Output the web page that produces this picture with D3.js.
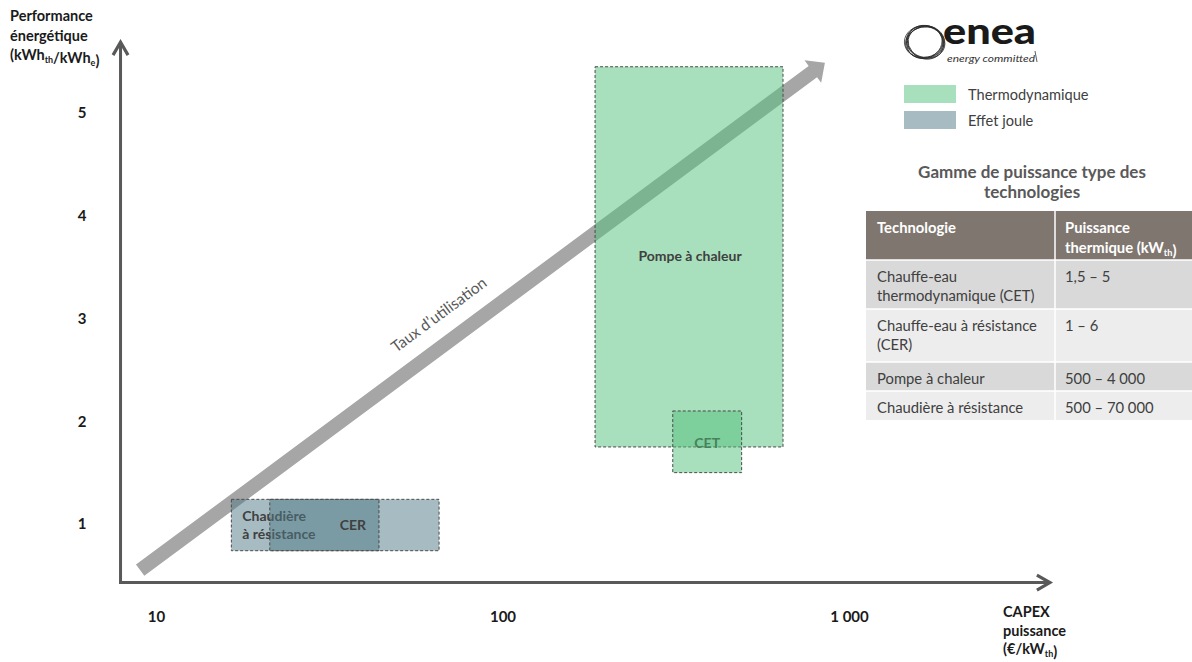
<!DOCTYPE html>
<html lang="fr">
<head>
<meta charset="utf-8">
<script src="https://cdn.jsdelivr.net/npm/d3@7"></script>
<style>
  html, body { margin: 0; padding: 0; background: #ffffff; }
  svg { display: block; font-family: Lato, "Noto Sans", sans-serif; }
</style>
</head>
<body>
<svg id="chart" width="1192" height="662"></svg>
<script>
// Technologies: CAPEX range (€/kWth) and energy performance range (kWhth/kWhe)
const categories = ["Chaudière à résistance", "CER", "Pompe à chaleur", "CET"];
const families   = ["Effet joule", "Effet joule", "Thermodynamique", "Thermodynamique"];
const capexLow   = [16.5, 21.3, 185, 310];
const capexHigh  = [65.6, 44, 645, 490];
const perfLow    = [0.74, 0.74, 1.75, 1.5];
const perfHigh   = [1.24, 1.24, 5.45, 2.1];

// Axis ticks
const xTicks = [10, 100, 1000];
const xTickLabels = ["10", "100", "1 000"];
const yTicks = [1, 2, 3, 4, 5];
const yTickLabels = ["1", "2", "3", "4", "5"];

// Axis extents (where the axis arrows start and end)
const xAxisExtent = [7.9, 3800];
const yAxisExtent = [0.43, 5.69];

// "Taux d'utilisation" trend arrow, from / to (CAPEX, performance)
const trendStart = [9, 0.55];
const trendEnd = [852, 5.49];

// Legend
const legendLabels = ["Thermodynamique", "Effet joule"];

// Power range table
const tableTitle = ["Gamme de puissance type des", "technologies"];
const techNames = [
  ["Chauffe-eau", "thermodynamique (CET)"],
  ["Chauffe-eau à résistance", "(CER)"],
  ["Pompe à chaleur"],
  ["Chaudière à résistance"]
];
const powerRanges = ["1,5 – 5", "1 – 6", "500 – 4 000", "500 – 70 000"];

const familyColor = { "Thermodynamique": "#51bf79", "Effet joule": "#4f7985" };

const svg = d3.select("#chart");

const x = d3.scaleLog().domain([10, 1000]).range([156, 849]);
const y = d3.scaleLinear().domain([1, 5]).range([524, 113]);

const axisColor = "#595959";
const textDark = "#404040";

// rich text helper with subscripts
function rich(sel, parts, baseSize) {
  parts.forEach(p => {
    if (p.sub) {
      sel.append("tspan").attr("dy", 3).attr("font-size", baseSize * 0.62).text(p.t);
      sel.append("tspan").attr("dy", -3).text("");
    } else {
      sel.append("tspan").text(p.t);
    }
  });
}

// ---- Trend arrow (drawn first, boxes overlay it) ----
(function drawTrend() {
  const p0 = [x(trendStart[0]), y(trendStart[1])];
  const p1 = [x(trendEnd[0]), y(trendEnd[1])];
  const dx = p1[0] - p0[0], dy = p1[1] - p0[1];
  const len = Math.hypot(dx, dy);
  const u = [dx / len, dy / len];
  const n = [-u[1], u[0]];
  const hw = 7, headLen = 15, headHw = 14;
  const b = [p1[0] - u[0] * headLen, p1[1] - u[1] * headLen];
  const pts = [
    [p0[0] + n[0] * hw, p0[1] + n[1] * hw],
    [b[0] + n[0] * hw, b[1] + n[1] * hw],
    [b[0] + n[0] * headHw, b[1] + n[1] * headHw],
    p1,
    [b[0] - n[0] * headHw, b[1] - n[1] * headHw],
    [b[0] - n[0] * hw, b[1] - n[1] * hw],
    [p0[0] - n[0] * hw, p0[1] - n[1] * hw]
  ];
  svg.append("polygon")
    .attr("points", pts.map(p => p.join(",")).join(" "))
    .attr("fill", "#a6a6a6");

  const t = 0.46, off = 22;
  const up = [u[1], -u[0]];
  const lx = p0[0] + dx * t + up[0] * off;
  const ly = p0[1] + dy * t + up[1] * off;
  const ang = Math.atan2(dy, dx) * 180 / Math.PI;
  svg.append("text")
    .attr("transform", `translate(${lx},${ly}) rotate(${ang})`)
    .attr("text-anchor", "middle")
    .attr("font-size", 15.5)
    .attr("fill", "#595959")
    .text("Taux d’utilisation");
})();

// ---- Axes ----
function chevron(tip, dir) {
  const p = dir === "up"
    ? [[tip[0] - 7.5, tip[1] + 13], tip, [tip[0] + 7.5, tip[1] + 13]]
    : [[tip[0] - 13, tip[1] - 7.5], tip, [tip[0] - 13, tip[1] + 7.5]];
  svg.append("polyline")
    .attr("points", p.map(q => q.join(",")).join(" "))
    .attr("fill", "none").attr("stroke", axisColor)
    .attr("stroke-width", 3.2).attr("stroke-linejoin", "miter");
}
const ox = x(xAxisExtent[0]), oy = y(yAxisExtent[0]);
svg.append("line")
  .attr("x1", ox).attr("y1", oy + 1.5).attr("x2", ox).attr("y2", y(yAxisExtent[1]) + 2)
  .attr("stroke", axisColor).attr("stroke-width", 3);
chevron([ox, y(yAxisExtent[1])], "up");
svg.append("line")
  .attr("x1", ox - 1.5).attr("y1", oy).attr("x2", x(xAxisExtent[1]) - 2).attr("y2", oy)
  .attr("stroke", axisColor).attr("stroke-width", 3);
chevron([x(xAxisExtent[1]), oy], "right");

const xAxis = d3.axisBottom(x)
  .tickValues(xTicks)
  .tickFormat((d, i) => xTickLabels[i])
  .tickSize(0).tickPadding(29);
const gx = svg.append("g").attr("transform", `translate(0,${oy})`).call(xAxis);
gx.select(".domain").remove();
gx.selectAll("text")
  .attr("font-size", 15).attr("font-weight", "bold")
  .attr("fill", "#1a1a1a").attr("font-family", "Lato, sans-serif");

const yAxis = d3.axisLeft(y)
  .tickValues(yTicks)
  .tickFormat((d, i) => yTickLabels[i])
  .tickSize(0).tickPadding(34);
const gy = svg.append("g").attr("transform", `translate(${ox},0)`).call(yAxis);
gy.select(".domain").remove();
gy.selectAll("text")
  .attr("font-size", 15).attr("font-weight", "bold")
  .attr("fill", "#1a1a1a").attr("font-family", "Lato, sans-serif");

// Axis titles
const yTitle = svg.append("g").attr("font-size", 14.5).attr("font-weight", "bold").attr("fill", "#1a1a1a");
yTitle.append("text").attr("x", 10).attr("y", 21).text("Performance");
yTitle.append("text").attr("x", 10).attr("y", 41).text("énergétique");
rich(yTitle.append("text").attr("x", 10).attr("y", 60),
  [{ t: "(kWh" }, { t: "th", sub: true }, { t: "/kWh" }, { t: "e", sub: true }, { t: ")" }], 14.5);

const xTitle = svg.append("g").attr("font-size", 14.5).attr("font-weight", "bold").attr("fill", "#1a1a1a");
xTitle.append("text").attr("x", 1003).attr("y", 617).text("CAPEX");
xTitle.append("text").attr("x", 1003).attr("y", 636).text("puissance");
rich(xTitle.append("text").attr("x", 1003).attr("y", 654),
  [{ t: "(€/kW" }, { t: "th", sub: true }, { t: ")" }], 14.5);

// ---- Technology boxes ----
function box(i) {
  const x0 = x(capexLow[i]), x1 = x(capexHigh[i]);
  const y0 = y(perfHigh[i]), y1 = y(perfLow[i]);
  svg.append("rect")
    .attr("x", x0).attr("y", y0)
    .attr("width", x1 - x0).attr("height", y1 - y0)
    .attr("fill", familyColor[families[i]]).attr("fill-opacity", 0.5)
    .attr("stroke", "#4a4a4a").attr("stroke-width", 1)
    .attr("stroke-dasharray", "3,2");
  return { x0, x1, y0, y1, cx: (x0 + x1) / 2, cy: (y0 + y1) / 2 };
}
function label(lines, px, py, anchor, size) {
  const t = svg.append("text")
    .attr("text-anchor", anchor)
    .attr("font-size", size).attr("font-weight", "bold")
    .attr("fill", textDark);
  lines.forEach((l, k) => {
    t.append("tspan").attr("x", px).attr("y", py + k * 18).text(l);
  });
}

// Chaudière à résistance, label sits under the CER box
const bChaud = box(0);
label(["Chaudière", "à résistance"], bChaud.x0 + 11, bChaud.cy - 4, "start", 14);
const bCer = box(1);
label([categories[1]], bCer.x1 - 13, bCer.cy + 5, "end", 14);
const bPac = box(2);
label([categories[2]], bPac.cx + 1, bPac.cy + 4, "middle", 14);
// CET label sits under its own box
const iCet = 3;
const cetX = (x(capexLow[iCet]) + x(capexHigh[iCet])) / 2;
const cetY = (y(perfLow[iCet]) + y(perfHigh[iCet])) / 2;
label([categories[3]], cetX, cetY + 6, "middle", 14);
box(3);

// ---- Logo ----
const logo = svg.append("g");
[0, 14, -12, 26, -24, 8].forEach((r, k) => {
  logo.append("ellipse")
    .attr("cx", 925 + (k % 2 ? 0.6 : -0.6)).attr("cy", 42)
    .attr("rx", 20 - k * 0.5).attr("ry", 16.5 - (k % 3) * 0.6)
    .attr("transform", `rotate(${r},925,42)`)
    .attr("fill", "none").attr("stroke", "#2b2b2b").attr("stroke-width", 0.8);
});
logo.append("text").attr("x", 943).attr("y", 44)
  .attr("font-size", 36).attr("font-weight", 900).attr("fill", "#1a1a1a")
  .attr("textLength", 93).attr("lengthAdjust", "spacingAndGlyphs")
  .attr("font-family", "Lato, sans-serif")
  .text("enea");
logo.append("text").attr("x", 947).attr("y", 62)
  .attr("font-size", 9.5).attr("font-style", "italic").attr("fill", "#333")
  .attr("textLength", 88).attr("lengthAdjust", "spacingAndGlyphs")
  .text("energy committed");
logo.append("line").attr("x1", 1035).attr("y1", 51).attr("x2", 1037).attr("y2", 62)
  .attr("stroke", "#333").attr("stroke-width", 0.8);

// ---- Legend ----
const legend = svg.append("g");
legendLabels.forEach((l, i) => {
  legend.append("rect")
    .attr("x", 904).attr("y", 85 + i * 26)
    .attr("width", 52).attr("height", 18)
    .attr("fill", familyColor[l]).attr("fill-opacity", 0.5);
  legend.append("text")
    .attr("x", 968).attr("y", 100 + i * 26)
    .attr("font-size", 14.6).attr("fill", textDark)
    .text(l);
});

// ---- Power range table ----
const tbl = svg.append("g");
tableTitle.forEach((l, i) => {
  tbl.append("text")
    .attr("x", 1032).attr("y", 178 + i * 20)
    .attr("text-anchor", "middle")
    .attr("font-size", 17).attr("font-weight", "bold").attr("fill", "#595959")
    .text(l);
});
const tX0 = 866, tX1 = 1192, tCol = 1055;
const rowEdges = [211, 260, 309, 362, 391, 420];
const rowFills = ["#7f776f", "#d9d9d9", "#ededed", "#d9d9d9", "#ededed"];
rowFills.forEach((f, i) => {
  tbl.append("rect")
    .attr("x", tX0).attr("y", rowEdges[i])
    .attr("width", tX1 - tX0).attr("height", rowEdges[i + 1] - rowEdges[i])
    .attr("fill", f);
});
rowEdges.slice(1, -1).forEach(e => {
  tbl.append("line").attr("x1", tX0).attr("x2", tX1).attr("y1", e).attr("y2", e)
    .attr("stroke", "#ffffff").attr("stroke-width", 1.5);
});
tbl.append("line").attr("x1", tCol).attr("x2", tCol)
  .attr("y1", rowEdges[0]).attr("y2", rowEdges[rowEdges.length - 1])
  .attr("stroke", "#ffffff").attr("stroke-width", 1.5);

const head = tbl.append("g").attr("font-size", 14.8).attr("font-weight", "bold").attr("fill", "#ffffff");
head.append("text").attr("x", 877).attr("y", 233).text("Technologie");
head.append("text").attr("x", 1065).attr("y", 233).text("Puissance");
rich(head.append("text").attr("x", 1065).attr("y", 253),
  [{ t: "thermique (kW" }, { t: "th", sub: true }, { t: ")" }], 14.8);

techNames.forEach((lines, i) => {
  const top = rowEdges[i + 1];
  lines.forEach((l, k) => {
    tbl.append("text")
      .attr("x", 877).attr("y", top + 22 + k * 19)
      .attr("font-size", 14.8).attr("fill", textDark)
      .text(l);
  });
  tbl.append("text")
    .attr("x", 1065).attr("y", top + 22)
    .attr("font-size", 14.8).attr("fill", textDark)
    .text(powerRanges[i]);
});
</script>
</body>
</html>
